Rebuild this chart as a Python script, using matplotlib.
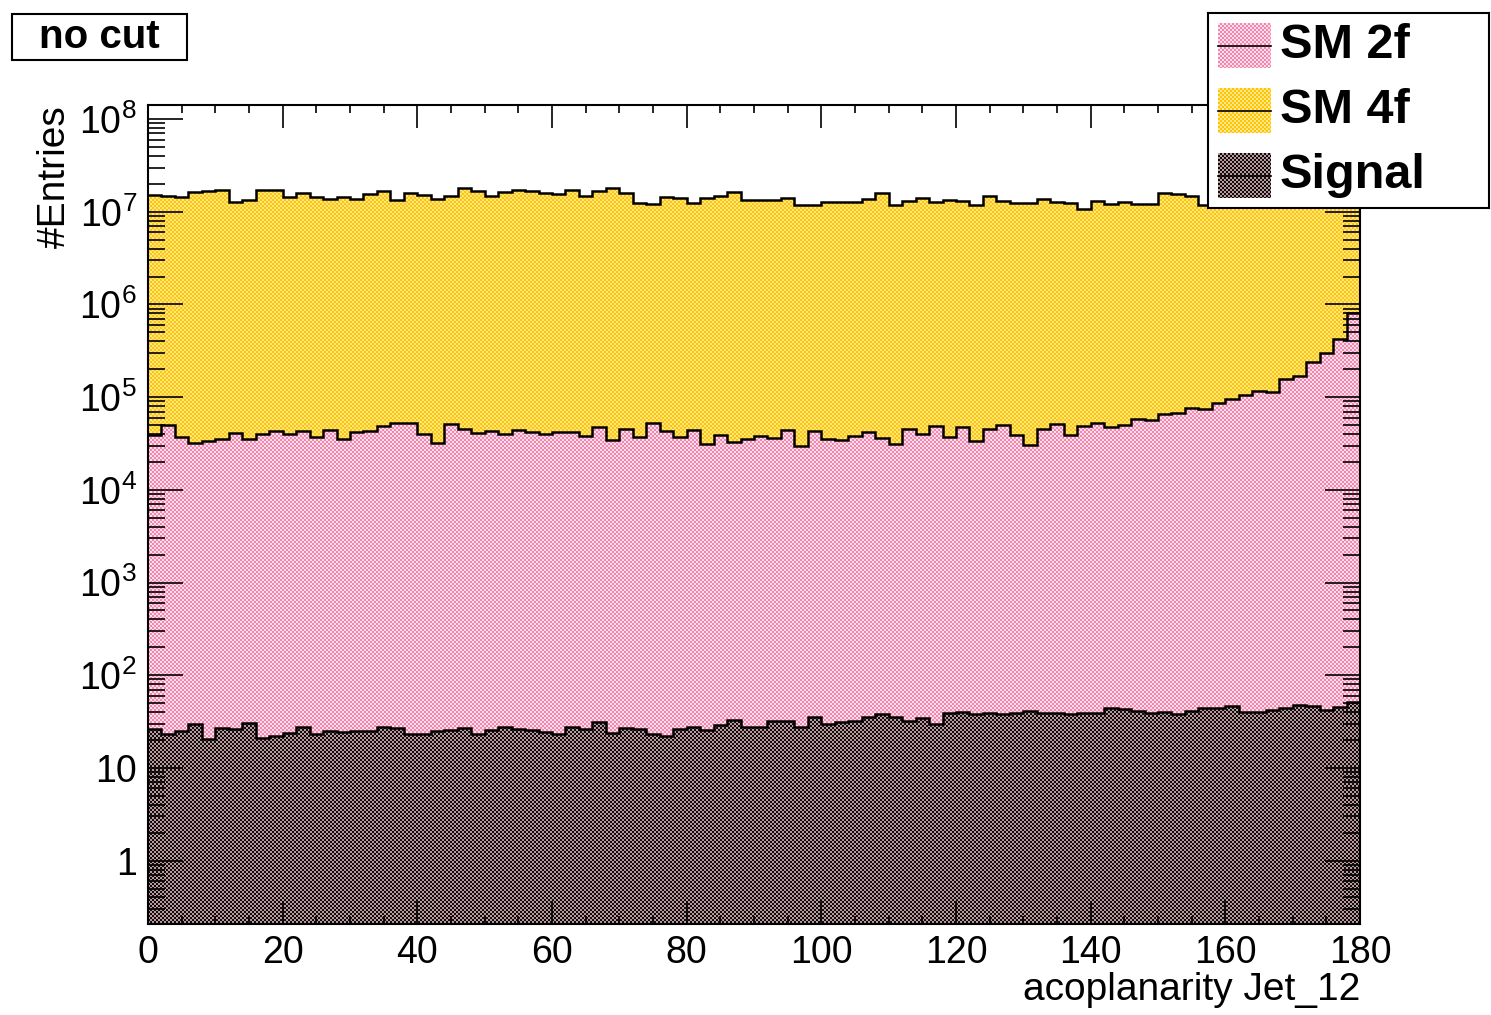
"""
Stacked acoplanarity histogram (SM 2f / SM 4f / signal), log scale, no cut.
Writes out.png.
"""
import numpy as np
import matplotlib
matplotlib.use("Agg")
import matplotlib.pyplot as plt
from matplotlib.patches import Rectangle
from matplotlib.ticker import (MultipleLocator, LogLocator, NullFormatter,
                               FuncFormatter)

plt.rcParams["font.family"] = ["Liberation Sans", "DejaVu Sans"]
plt.rcParams["mathtext.fontset"] = "custom"
plt.rcParams["mathtext.rm"] = "Liberation Sans"
plt.rcParams["mathtext.it"] = "Liberation Sans:italic"
plt.rcParams["mathtext.bf"] = "Liberation Sans:bold"

# ---------------- histogram contents (90 bins, 2 deg wide) -----------------
BIN_EDGES = np.arange(0, 182, 2)

SIGNAL = [
    26.1, 23.0, 25.2, 29.5, 20.5, 26.7, 26.1, 30.3, 21.2, 22.3,
    23.6, 27.8, 23.4, 24.8, 24.2, 25.2, 25.2, 27.8, 27.2, 23.0,
    23.0, 24.8, 25.6, 26.7, 23.0, 25.6, 27.8, 26.1, 25.4, 24.6,
    23.0, 27.8, 26.3, 31.5, 24.0, 27.2, 26.5, 23.0, 22.3, 26.3,
    27.8, 25.6, 28.8, 33.1, 27.8, 27.8, 32.3, 32.3, 27.8, 35.7,
    29.5, 31.5, 32.3, 35.7, 38.4, 35.7, 32.1, 34.8, 29.5, 39.4,
    40.4, 38.4, 39.4, 37.8, 38.8, 41.1, 39.4, 38.8, 37.8, 39.4,
    38.8, 44.0, 43.2, 41.4, 39.4, 40.4, 37.8, 41.4, 44.6, 44.0,
    46.5, 40.4, 40.4, 42.1, 44.0, 47.7, 46.5, 42.1, 45.7, 51.8,
]

SM_2F = [
    39000, 50000, 36800, 31700, 33900, 35300, 41300, 35300, 39700, 43100,
    40000, 43100, 36800, 44200, 35300, 42400, 43100, 49200, 53000, 53000,
    39700, 32200, 51300, 45600, 41000, 43400, 40000, 44200, 42400, 39700,
    41700, 42400, 38300, 48000, 34400, 45300, 36800, 52600, 43400, 37400,
    44200, 31000, 39000, 33000, 35100, 38000, 36500, 44200, 29900, 43100,
    35300, 34400, 38000, 42000, 36500, 31200, 45300, 40000, 48800, 37100,
    47600, 33400, 45600, 50000, 39300, 30200, 45000, 51300, 38700, 48800,
    52200, 47200, 50000, 58500, 57000, 65800, 66900, 76300, 73900, 87000,
    95500, 106000, 116000, 114000, 157000, 169000, 239000, 299000, 424000,
    805000,
]

SM_4F = [
    1.50e7, 1.48e7, 1.43e7, 1.62e7, 1.67e7, 1.70e7, 1.26e7, 1.34e7, 1.71e7, 1.71e7,
    1.45e7, 1.58e7, 1.45e7, 1.37e7, 1.45e7, 1.37e7, 1.55e7, 1.67e7, 1.34e7, 1.58e7,
    1.51e7, 1.36e7, 1.49e7, 1.80e7, 1.68e7, 1.49e7, 1.63e7, 1.70e7, 1.66e7, 1.59e7,
    1.56e7, 1.73e7, 1.48e7, 1.66e7, 1.80e7, 1.59e7, 1.24e7, 1.22e7, 1.44e7, 1.41e7,
    1.24e7, 1.41e7, 1.48e7, 1.62e7, 1.34e7, 1.35e7, 1.35e7, 1.41e7, 1.17e7, 1.19e7,
    1.27e7, 1.27e7, 1.27e7, 1.38e7, 1.59e7, 1.17e7, 1.29e7, 1.40e7, 1.27e7, 1.35e7,
    1.30e7, 1.19e7, 1.47e7, 1.31e7, 1.25e7, 1.24e7, 1.38e7, 1.27e7, 1.25e7, 1.08e7,
    1.29e7, 1.22e7, 1.28e7, 1.20e7, 1.22e7, 1.59e7, 1.54e7, 1.47e7, 1.17e7, 1.40e7,
    1.45e7, 1.52e7, 1.38e7, 1.47e7, 1.55e7, 1.42e7, 1.50e7, 1.44e7, 1.53e7, 1.48e7,
]

LABELS = ["SM 2f", "SM 4f", "Signal"]
CUT_LABEL = "no cut"
X_TITLE = "acoplanarity Jet_12"
Y_TITLE = "#Entries"

# checker pattern colours (ink, paper) per sample
PAT_2F = ("#f585ae", "#ffdfea")
PAT_4F = ("#ffc600", "#ffe68c")
PAT_SIG = ("#100c0c", "#b9999e")

W, H, DPI = 1491, 1015, 100


def checker(ink, paper, ny, nx, cell=2):
    """RGB array with a ROOT-like 'dotted' fill pattern."""
    ink = np.array(matplotlib.colors.to_rgb(ink))
    paper = np.array(matplotlib.colors.to_rgb(paper))
    j, i = np.indices((ny, nx))
    mask = ((i // cell + j // cell) % 2).astype(bool)
    out = np.empty((ny, nx, 3))
    out[mask] = ink
    out[~mask] = paper
    return out


def textured_band(ax, top, bottom, pattern, px_w, px_h):
    band = ax.stairs(top, BIN_EDGES, baseline=bottom, fill=True,
                     facecolor="none", edgecolor="none", linewidth=0, zorder=1)
    img = ax.imshow(checker(*pattern, px_h, px_w), extent=(0, 1, 0, 1),
                    transform=ax.transAxes, interpolation="nearest",
                    aspect="auto", zorder=1)
    img.set_clip_path(band)


def log_label(v, pos):
    e = int(round(np.log10(v)))
    if e == 0:
        return "1"
    if e == 1:
        return "10"
    return r"$10^{%d}$" % e


def main():
    sig = np.array(SIGNAL, float)
    cum_2f = sig + np.array(SM_2F, float)
    cum_all = cum_2f + np.array(SM_4F, float)

    fig = plt.figure(figsize=(W / DPI, H / DPI), dpi=DPI)
    x0, x1, y0, y1 = 148, 1360, 105, 924
    ax = fig.add_axes([x0 / W, 1 - y1 / H, (x1 - x0) / W, (y1 - y0) / H])
    px_w, px_h = x1 - x0, y1 - y0

    ax.set_yscale("log")
    floor = np.full_like(sig, 1e-3)
    textured_band(ax, cum_all, cum_2f, PAT_4F, px_w, px_h)
    textured_band(ax, cum_2f, sig, PAT_2F, px_w, px_h)
    textured_band(ax, sig, floor, PAT_SIG, px_w, px_h)
    for level in (cum_all, cum_2f, sig):
        ax.stairs(level, BIN_EDGES, baseline=None, color="black",
                  linewidth=1.8, zorder=2)

    ax.set_xlim(0, 180)
    ax.set_ylim(0.207, 1.42e8)
    ax.xaxis.set_major_locator(MultipleLocator(20))
    ax.xaxis.set_minor_locator(MultipleLocator(5))
    ax.yaxis.set_major_locator(LogLocator(base=10, numticks=20))
    ax.yaxis.set_minor_locator(LogLocator(base=10, subs=np.arange(2, 10),
                                          numticks=20))
    ax.yaxis.set_major_formatter(FuncFormatter(log_label))
    ax.yaxis.set_minor_formatter(NullFormatter())
    ax.yaxis.get_offset_text().set_visible(False)
    ax.xaxis.get_offset_text().set_visible(False)

    ax.tick_params(which="both", direction="in", top=True, right=True,
                   width=1.2, labelsize=27, pad=8)
    ax.tick_params(axis="x", which="major", length=16.5)
    ax.tick_params(axis="x", which="minor", length=6)
    ax.tick_params(axis="y", which="major", length=25)
    ax.tick_params(axis="y", which="minor", length=12)
    for sp in ax.spines.values():
        sp.set_linewidth(1.5)

    fig.text(x1 / W, 1 - 1000 / H, X_TITLE, ha="right", va="baseline",
             size=28)
    fig.text(55 / W, 1 - y0 / H, Y_TITLE, ha="center", va="top",
             rotation=90, size=28)

    # "no cut" box
    fig.patches.append(Rectangle((12 / W, 1 - 60 / H), 175 / W, 46 / H,
                                 transform=fig.transFigure, facecolor="white",
                                 edgecolor="black", linewidth=1.5))
    fig.text(99 / W, 1 - 37 / H, CUT_LABEL, ha="center", va="center",
             size=29, weight="bold")

    # legend box drawn in pixel coordinates
    lx0, lx1, ly0, ly1 = 1208, 1489, 13, 208
    lax = fig.add_axes([lx0 / W, 1 - ly1 / H, (lx1 - lx0) / W,
                        (ly1 - ly0) / H])
    lax.set_xticks([])
    lax.set_yticks([])
    lax.set_facecolor("white")
    for sp in lax.spines.values():
        sp.set_linewidth(1.5)
    for label, pattern, yc in zip(LABELS, [PAT_2F, PAT_4F, PAT_SIG],
                                  [45.5, 110.5, 175.5]):
        lax.imshow(checker(*pattern, 45, 53),
                   extent=(1218, 1271, yc + 22.5, yc - 22.5),
                   interpolation="nearest", aspect="auto")
        lax.plot([1218, 1271], [yc, yc], color="black", linewidth=1.2)
        lax.text(1280, yc, label, ha="left", va="center", size=35,
                 weight="bold")
    lax.set_xlim(lx0, lx1)
    lax.set_ylim(ly1, ly0)

    fig.savefig("out.png", dpi=DPI)
    plt.close(fig)


if __name__ == "__main__":
    main()
